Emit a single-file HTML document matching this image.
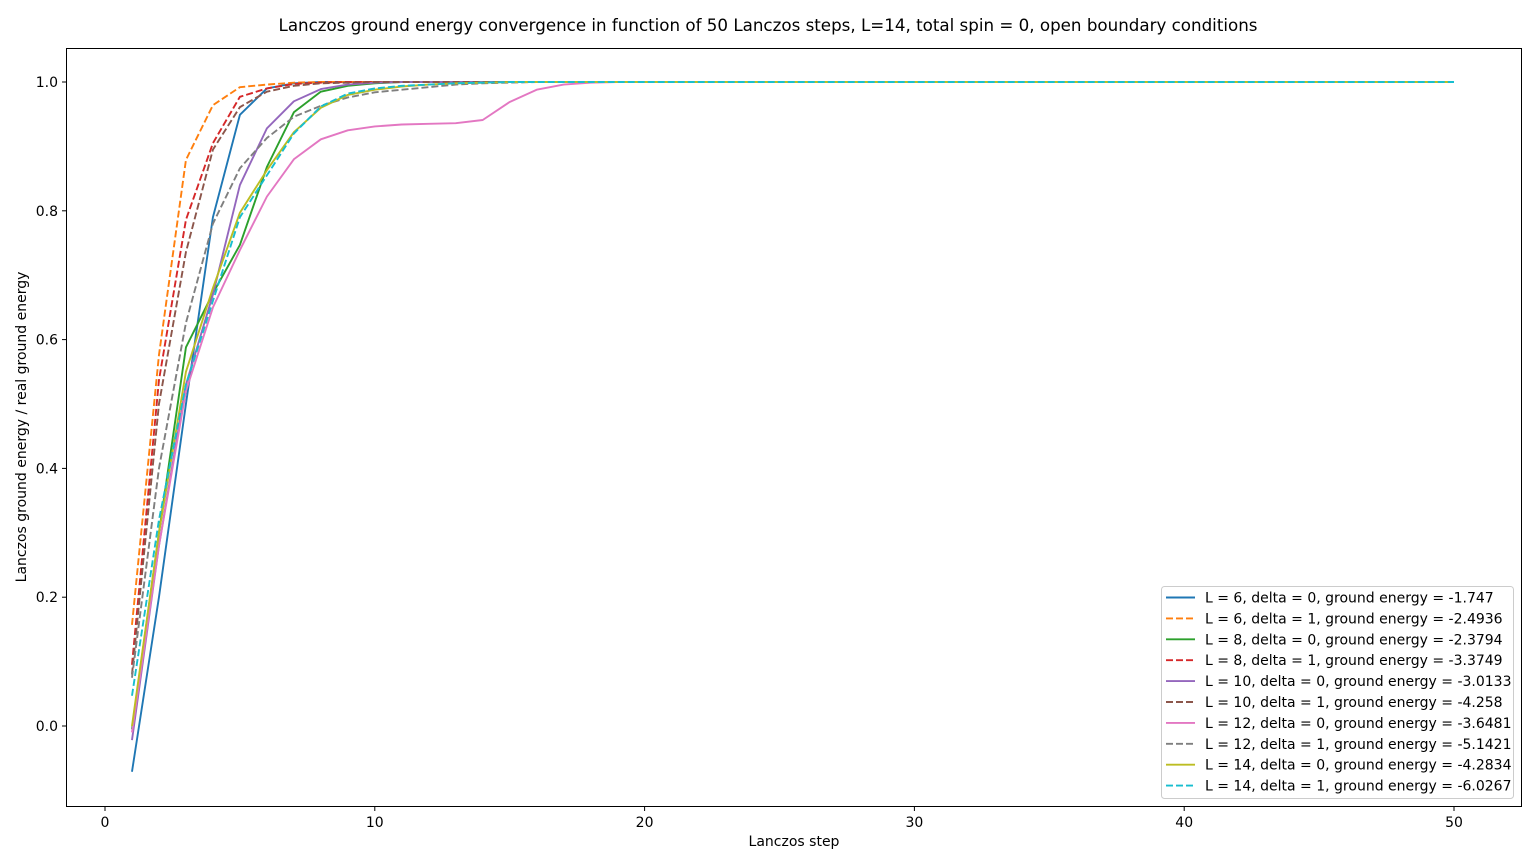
<!DOCTYPE html>
<html><head><meta charset="utf-8"><style>
html,body{margin:0;padding:0;background:#fff}
svg{display:block;font-family:"DejaVu Sans","Liberation Sans",sans-serif}
</style></head><body>
<svg id="chart" width="1536" height="864" viewBox="0 0 1536 864" xmlns="http://www.w3.org/2000/svg">
<text x="768" y="31" text-anchor="middle" font-size="16.7">Lanczos ground energy convergence in function of 50 Lanczos steps, L=14, total spin = 0, open boundary conditions</text>
<g id="plot"></g>
<rect x="66.5" y="48.5" width="1455" height="758" fill="none" stroke="#000" stroke-width="1"/>
<text x="794" y="846" text-anchor="middle" font-size="14">Lanczos step</text>
<text transform="translate(26,427) rotate(-90)" text-anchor="middle" font-size="14">Lanczos ground energy / real ground energy</text>
<g id="legend"></g>
</svg>
<script>
const xTicks=[0,10,20,30,40,50];
const yTicks=[0.0,0.2,0.4,0.6,0.8,1.0];
const yTickLabels=["0.0","0.2","0.4","0.6","0.8","1.0"];
const labels=["L = 6, delta = 0, ground energy = -1.747","L = 6, delta = 1, ground energy = -2.4936","L = 8, delta = 0, ground energy = -2.3794","L = 8, delta = 1, ground energy = -3.3749","L = 10, delta = 0, ground energy = -3.0133","L = 10, delta = 1, ground energy = -4.258","L = 12, delta = 0, ground energy = -3.6481","L = 12, delta = 1, ground energy = -5.1421","L = 14, delta = 0, ground energy = -4.2834","L = 14, delta = 1, ground energy = -6.0267"];
const colors=["#1f77b4","#ff7f0e","#2ca02c","#d62728","#9467bd","#8c564b","#e377c2","#7f7f7f","#bcbd22","#17becf"];
const dashed=[false,true,false,true,false,true,false,true,false,true];
const sL6d0=[-0.071,0.2,0.5,0.79,0.949,0.99,0.998,1,1,1, 1,1,1,1,1,1,1,1,1,1, 1,1,1,1,1,1,1,1,1,1, 1,1,1,1,1,1,1,1,1,1, 1,1,1,1,1,1,1,1,1,1];
const sL6d1=[0.157,0.576,0.879,0.964,0.992,0.996,0.999,1,1,1, 1,1,1,1,1,1,1,1,1,1, 1,1,1,1,1,1,1,1,1,1, 1,1,1,1,1,1,1,1,1,1, 1,1,1,1,1,1,1,1,1,1];
const sL8d0=[-0.005,0.3,0.588,0.672,0.747,0.868,0.953,0.985,0.994,0.998, 1,1,1,1,1,1,1,1,1,1, 1,1,1,1,1,1,1,1,1,1, 1,1,1,1,1,1,1,1,1,1, 1,1,1,1,1,1,1,1,1,1];
const sL8d1=[0.095,0.537,0.786,0.905,0.977,0.99,0.997,0.999,1,1, 1,1,1,1,1,1,1,1,1,1, 1,1,1,1,1,1,1,1,1,1, 1,1,1,1,1,1,1,1,1,1, 1,1,1,1,1,1,1,1,1,1];
const sL10d0=[-0.022,0.28,0.53,0.67,0.84,0.928,0.97,0.989,0.996,0.999, 1,1,1,1,1,1,1,1,1,1, 1,1,1,1,1,1,1,1,1,1, 1,1,1,1,1,1,1,1,1,1, 1,1,1,1,1,1,1,1,1,1];
const sL10d1=[0.08,0.5,0.736,0.895,0.961,0.985,0.994,0.998,0.999,1, 1,1,1,1,1,1,1,1,1,1, 1,1,1,1,1,1,1,1,1,1, 1,1,1,1,1,1,1,1,1,1, 1,1,1,1,1,1,1,1,1,1];
const sL12d0=[-0.01,0.28,0.52,0.65,0.739,0.822,0.88,0.911,0.925,0.931, 0.934,0.935,0.936,0.941,0.969,0.988,0.996,0.999,1,1, 1,1,1,1,1,1,1,1,1,1, 1,1,1,1,1,1,1,1,1,1, 1,1,1,1,1,1,1,1,1,1];
const sL12d1=[0.075,0.4,0.626,0.78,0.866,0.913,0.946,0.963,0.976,0.984, 0.988,0.992,0.996,0.998,0.999,1,1,1,1,1, 1,1,1,1,1,1,1,1,1,1, 1,1,1,1,1,1,1,1,1,1, 1,1,1,1,1,1,1,1,1,1];
const sL14d0=[0,0.3,0.55,0.68,0.797,0.863,0.922,0.96,0.98,0.988, 0.993,0.996,0.998,0.999,1,1,1,1,1,1, 1,1,1,1,1,1,1,1,1,1, 1,1,1,1,1,1,1,1,1,1, 1,1,1,1,1,1,1,1,1,1];
const sL14d1=[0.047,0.32,0.53,0.66,0.79,0.855,0.92,0.962,0.982,0.99, 0.994,0.996,0.998,0.999,1,1,1,1,1,1, 1,1,1,1,1,1,1,1,1,1, 1,1,1,1,1,1,1,1,1,1, 1,1,1,1,1,1,1,1,1,1];
const series=[sL6d0,sL6d1,sL8d0,sL8d1,sL10d0,sL10d1,sL12d0,sL12d1,sL14d0,sL14d1];
const NS="http://www.w3.org/2000/svg";
function xs(v){return 105+v*(1454-105)/50;}
function ys(v){return 726-v*(726-82);}
const plot=document.getElementById('plot');
function mk(tag,attrs,parent){const e=document.createElementNS(NS,tag);for(const k in attrs)e.setAttribute(k,attrs[k]);parent.appendChild(e);return e;}
xTicks.forEach(t=>{
  const l=mk('line',{x1:xs(t),x2:xs(t),y1:806.5,y2:811,stroke:'#000'},plot);
  
  
  const tx=mk('text',{x:xs(t),y:827,'text-anchor':'middle','font-size':'14'},plot);
  
  
  tx.textContent=String(t);
});
yTicks.forEach((t,i)=>{
  const l=mk('line',{x1:62,x2:66.5,y1:ys(t),y2:ys(t),stroke:'#000'},plot);
  
  
  const tx=mk('text',{x:58,y:ys(t)+5,'text-anchor':'end','font-size':'14'},plot);
  
  
  tx.textContent=yTickLabels[i];
});
series.forEach((s,i)=>{
  const pts=s.map((v,j)=>xs(j+1).toFixed(2)+','+ys(v).toFixed(2)).join(' ');
  const p=mk('polyline',{points:pts,fill:'none',stroke:colors[i],'stroke-width':1.9,'stroke-linejoin':'round'},plot);
  if(dashed[i])p.setAttribute('stroke-dasharray','7,3');
  
  
});
const lg=document.getElementById('legend');
const box=mk('rect',{x:1161.5,y:586.5,width:352,height:212,rx:3,fill:'#fff','fill-opacity':0.8,stroke:'#ccc'},lg);


labels.forEach((lab,i)=>{
  const y=597.5+i*20.9;
  const g=mk('g',{},lg);
  
  
  const l=mk('line',{x1:1166,x2:1195,y1:y,y2:y,stroke:colors[i],'stroke-width':1.9},g);
  if(dashed[i])l.setAttribute('stroke-dasharray','7,3');
  const t=mk('text',{x:1205,y:y+5,'font-size':'14'},g);
  t.textContent=lab;
});
</script>
</body></html>
